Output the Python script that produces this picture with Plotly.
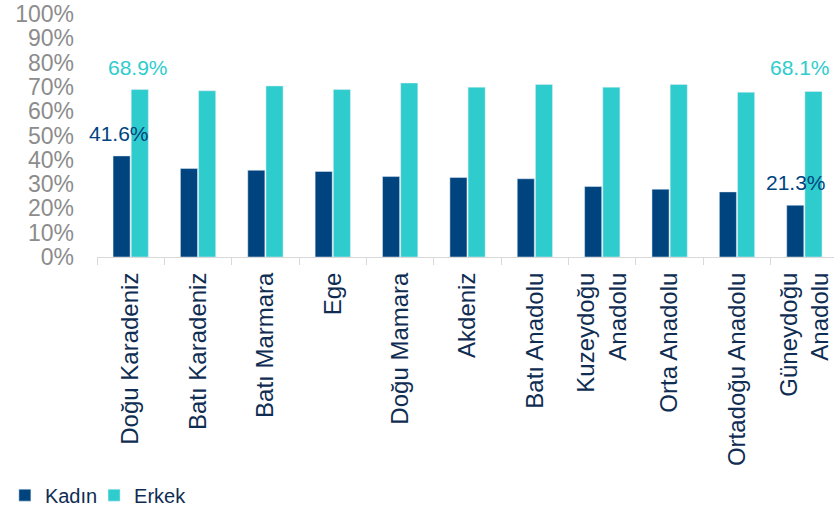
import plotly.graph_objects as go

# Regions (x axis) and shares in percent for women / men
regions = ['Doğu Karadeniz', 'Batı Karadeniz', 'Batı Marmara', 'Ege', 'Doğu Mamara',
           'Akdeniz', 'Batı Anadolu', 'Kuzeydoğu<br>Anadolu', 'Orta Anadolu',
           'Ortadoğu Anadolu', 'Güneydoğu<br>Anadolu']
kadin = [41.6, 36.4, 35.7, 35.2, 33.1, 32.7, 32.2, 29.0, 27.9, 26.8, 21.3]
erkek = [68.9, 68.4, 70.4, 68.9, 71.6, 69.9, 71.0, 69.9, 71.0, 67.8, 68.1]

y_ticks = list(range(0, 101, 10))
y_tick_labels = [f"{v}%" for v in y_ticks]

KADIN_COLOR = '#00447f'
ERKEK_COLOR = '#2ecccd'
NAVY_TEXT = '#0f2d52'
FONT = 'Liberation Sans, Arial, sans-serif'

fig = go.Figure()
fig.add_trace(go.Bar(name='Kadın', x=regions, y=kadin, marker_color=KADIN_COLOR, legend='legend'))
fig.add_trace(go.Bar(name='Erkek', x=regions, y=erkek, marker_color=ERKEK_COLOR, legend='legend2'))


# labels only on first and last region, like the original
def add_value_label(idx, values, color, xshift, yshift):
    fig.add_annotation(
        x=regions[idx], y=values[idx], xref='x', yref='y',
        text=f"{values[idx]:.1f}%", showarrow=False,
        xshift=xshift, yshift=yshift, yanchor='middle',
        font=dict(family=FONT, size=21, color=color)
    )


add_value_label(0, erkek, ERKEK_COLOR, 7, 22)
add_value_label(0, kadin, KADIN_COLOR, -12, 22)
add_value_label(10, erkek, ERKEK_COLOR, -4, 24)
add_value_label(10, kadin, KADIN_COLOR, -8, 23)

# two small legends so the entries sit close together like in the original
legend_style = dict(orientation='h', y=-0.98, xanchor='left', yanchor='middle',
                    font=dict(family=FONT, size=20, color=NAVY_TEXT),
                    itemwidth=30, bgcolor='rgba(0,0,0,0)')

fig.update_layout(
    width=834, height=513,
    margin=dict(l=97, r=0, t=14, b=256, autoexpand=False),
    plot_bgcolor='white', paper_bgcolor='white',
    barmode='group', bargap=0.46, bargroupgap=0.06,
    font=dict(family=FONT),
    showlegend=True,
    legend=dict(x=-0.125, **legend_style),
    legend2=dict(x=-0.004, **legend_style),
)

fig.update_yaxes(
    range=[0, 100], tickvals=y_ticks, ticktext=y_tick_labels,
    showgrid=False, zeroline=False, showline=False, automargin=False,
    ticklabeloverflow='allow', ticklabelstandoff=22,
    tickfont=dict(family=FONT, size=23, color='#8c8c8c'), ticklen=0, ticks=''
)

# last category runs a little past the right edge in the original
fig.update_xaxes(
    range=[-0.5, 10.44], autorange=False,
    showline=True, linecolor='#d9d9d9', linewidth=1, automargin=False,
    ticks='outside', tickson='boundaries', ticklen=7, tickcolor='#d9d9d9',
    tickangle=-90, ticklabelstandoff=5,
    tickfont=dict(family=FONT, size=24, color=NAVY_TEXT),
    showgrid=False
)

# drop the default page margin so the figure sits at the window's corner
fig.write_html("out.html", config={'displayModeBar': False},
               post_script="document.body.style.margin = '0px';")
